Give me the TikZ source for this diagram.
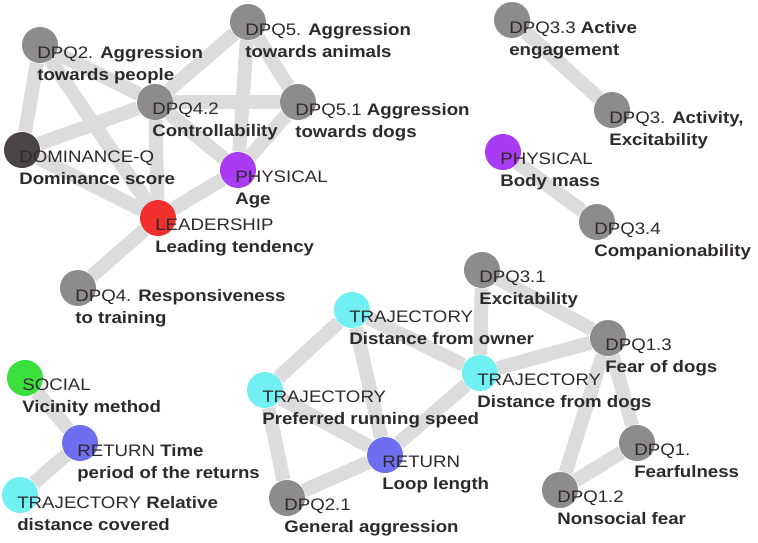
\documentclass[tikz,border=0pt]{standalone}
\usepackage{fontspec}
\setmainfont{Liberation Sans}[FakeStretch=1.12]
\usetikzlibrary{backgrounds}
\definecolor{nodegray}{HTML}{8E8B8B}
\definecolor{domgray}{HTML}{4A4444}
\definecolor{physpurple}{HTML}{A93BF2}
\definecolor{leadred}{HTML}{F22F2F}
\definecolor{trajcyan}{HTML}{70F0F2}
\definecolor{retblue}{HTML}{6E6EF0}
\definecolor{socgreen}{HTML}{3CE03C}
\definecolor{edgegray}{HTML}{DCDCDC}
\definecolor{txt}{HTML}{2E2A2A}
\begin{document}
\begin{tikzpicture}[
    x=0.75pt, y=-0.75pt,
    dot/.style={circle, minimum size=27pt, inner sep=0pt, fill=nodegray},
    lbl/.style={anchor=north west, inner sep=0pt, align=left, text=txt,
                font=\fontsize{12.5}{16.5}\selectfont, xshift=-2.2pt, yshift=-0.5pt},
    link/.style={line width=10.5pt, edgegray}
]
\useasboundingbox (0,0) rectangle (758,543);

% Nodes
\node[dot] (dpq2) at (40,45) {};
\node[dot] (dpq5) at (248,22) {};
\node[dot] (dpq42) at (155,102) {};
\node[dot] (dpq51) at (298,102) {};
\node[dot, fill=domgray] (dom) at (22,150) {};
\node[dot, fill=physpurple] (age) at (238,170) {};
\node[dot, fill=leadred] (lead) at (158,218) {};
\node[dot] (dpq4) at (78,288) {};
\node[dot] (dpq33) at (512,20) {};
\node[dot] (dpq3) at (612,110) {};
\node[dot, fill=physpurple] (mass) at (503,152) {};
\node[dot] (dpq34) at (597,222) {};
\node[dot] (dpq31) at (482,270) {};
\node[dot, fill=trajcyan] (owner) at (352,310) {};
\node[dot] (dpq13) at (608,338) {};
\node[dot, fill=trajcyan] (dogs) at (480,373) {};
\node[dot, fill=trajcyan] (speed) at (265,390) {};
\node[dot, fill=retblue] (loop) at (385,455) {};
\node[dot] (dpq1) at (637,443) {};
\node[dot] (dpq12) at (560,490) {};
\node[dot] (dpq21) at (287,498) {};
\node[dot, fill=socgreen] (soc) at (25,378) {};
\node[dot, fill=retblue] (rettime) at (80,443) {};
\node[dot, fill=trajcyan] (rel) at (20,495) {};

% Links
\begin{scope}[on background layer]
\foreach \a/\b in {dpq2/dom, dpq2/dpq42, dpq2/lead, dpq5/dpq42, dpq5/dpq51, dpq5/age,
    dpq42/dpq51, dpq42/dom, dpq42/lead, dpq42/age, dpq51/age, age/lead, dom/lead, lead/dpq4,
    dpq33/dpq3, mass/dpq34,
    dpq31/dogs, dpq31/dpq13, owner/dogs, owner/speed, owner/loop, dogs/dpq13, dogs/loop,
    speed/loop, speed/dpq21, loop/dpq21, dpq13/dpq1, dpq13/dpq12, dpq1/dpq12,
    soc/rettime, rettime/rel}
  \draw[link] (\a) -- (\b);
\end{scope}

% Labels
\node[lbl] (l-dpq2) at (dpq2) {DPQ2. \textbf{Aggression}\\\textbf{towards people}};
\node[lbl] (l-dpq5) at (dpq5) {DPQ5. \textbf{Aggression}\\\textbf{towards animals}};
\node[lbl] (l-dpq42) at (dpq42) {DPQ4.2\\\textbf{Controllability}};
\node[lbl] (l-dpq51) at (dpq51) {DPQ5.1 \textbf{Aggression}\\\textbf{towards dogs}};
\node[lbl] (l-dom) at (dom) {DOMINANCE-Q\\\textbf{Dominance score}};
\node[lbl] (l-age) at (age) {PHYSICAL\\\textbf{Age}};
\node[lbl] (l-lead) at (lead) {LEADERSHIP\\\textbf{Leading tendency}};
\node[lbl] (l-dpq4) at (dpq4) {DPQ4. \textbf{Responsiveness}\\\textbf{to training}};
\node[lbl] (l-dpq33) at (dpq33) {DPQ3.3 \textbf{Active}\\\textbf{engagement}};
\node[lbl] (l-dpq3) at (dpq3) {DPQ3. \textbf{Activity,}\\\textbf{Excitability}};
\node[lbl] (l-mass) at (mass) {PHYSICAL\\\textbf{Body mass}};
\node[lbl] (l-dpq34) at (dpq34) {DPQ3.4\\\textbf{Companionability}};
\node[lbl] (l-dpq31) at (dpq31) {DPQ3.1\\\textbf{Excitability}};
\node[lbl] (l-owner) at (owner) {TRAJECTORY\\\textbf{Distance from owner}};
\node[lbl] (l-dpq13) at (dpq13) {DPQ1.3\\\textbf{Fear of dogs}};
\node[lbl] (l-dogs) at (dogs) {TRAJECTORY\\\textbf{Distance from dogs}};
\node[lbl] (l-speed) at (speed) {TRAJECTORY\\\textbf{Preferred running speed}};
\node[lbl] (l-loop) at (loop) {RETURN\\\textbf{Loop length}};
\node[lbl] (l-dpq1) at (dpq1) {DPQ1.\\\textbf{Fearfulness}};
\node[lbl] (l-dpq12) at (dpq12) {DPQ1.2\\\textbf{Nonsocial fear}};
\node[lbl] (l-dpq21) at (dpq21) {DPQ2.1\\\textbf{General aggression}};
\node[lbl] (l-soc) at (soc) {SOCIAL\\\textbf{Vicinity method}};
\node[lbl] (l-rettime) at (rettime) {RETURN \textbf{Time}\\\textbf{period of the returns}};
\node[lbl] (l-rel) at (rel) {TRAJECTORY \textbf{Relative}\\\textbf{distance covered}};

\end{tikzpicture}
\end{document}
